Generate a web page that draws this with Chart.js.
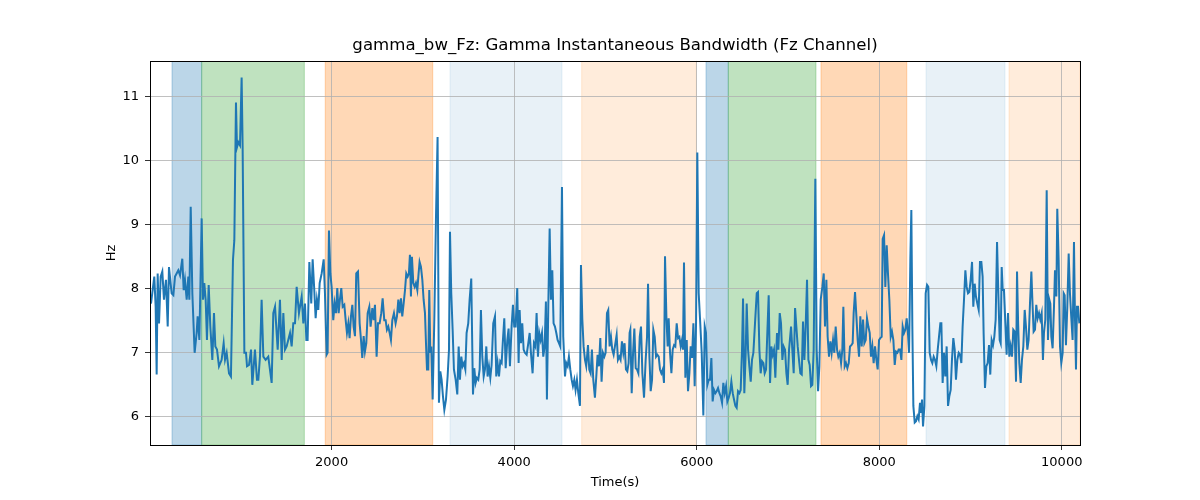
<!DOCTYPE html>
<html>
<head>
<meta charset="utf-8">
<script src="https://cdn.jsdelivr.net/npm/chart.js@4.4.0/dist/chart.umd.min.js"></script>
<style>
  html, body { margin: 0; padding: 0; background: #fff; }
</style>
</head>
<body>
<canvas id="bwChart" width="1200" height="500"></canvas>
<script>
// time (s) and gamma bandwidth (Hz)
const times = [
  21, 57, 72, 83, 94, 109, 127, 145, 163, 185, 204, 218, 247, 266, 284, 302, 320, 339, 364, 379,
  393, 412, 430, 441, 456, 474, 499, 521, 532, 551, 576, 591, 605, 620, 634, 653, 671, 693, 711, 726,
  744, 766, 795, 817, 832, 850, 876, 897, 919, 934, 952, 963, 978, 996, 1014, 1025, 1044, 1062, 1073, 1095,
  1117, 1131, 1160, 1182, 1197, 1215, 1233, 1252, 1277, 1306, 1343, 1361, 1380, 1409, 1434, 1453, 1471, 1489, 1507, 1544,
  1562, 1580, 1599, 1617, 1642, 1672, 1690, 1708, 1723, 1737, 1756, 1777, 1792, 1810, 1825, 1839, 1854, 1869, 1891, 1913,
  1927, 1945, 1956, 1971, 1986, 2000, 2018, 2033, 2048, 2062, 2077, 2091, 2106, 2121, 2139, 2154, 2168, 2183, 2197, 2212,
  2227, 2241, 2256, 2270, 2289, 2307, 2322, 2336, 2351, 2365, 2380, 2395, 2413, 2427, 2446, 2460, 2475, 2493, 2508, 2526,
  2544, 2559, 2577, 2592, 2606, 2621, 2636, 2650, 2665, 2683, 2701, 2716, 2731, 2745, 2760, 2774, 2789, 2804, 2818, 2833,
  2847, 2858, 2869, 2880, 2895, 2910, 2924, 2939, 2953, 2964, 2979, 2994, 3008, 3023, 3034, 3045, 3059, 3070, 3081, 3092,
  3107, 3125, 3143, 3161, 3176, 3191, 3205, 3220, 3235, 3253, 3271, 3286, 3297, 3311, 3326, 3340, 3359, 3377, 3392, 3406,
  3421, 3435, 3450, 3465, 3479, 3497, 3512, 3530, 3549, 3563, 3578, 3592, 3607, 3622, 3636, 3651, 3666, 3680, 3695, 3709,
  3724, 3739, 3753, 3771, 3790, 3804, 3819, 3834, 3848, 3863, 3877, 3892, 3907, 3925, 3939, 3954, 3972, 3987, 4001, 4016,
  4034, 4049, 4060, 4075, 4089, 4104, 4118, 4137, 4155, 4170, 4184, 4202, 4217, 4232, 4246, 4261, 4275, 4290, 4305, 4319,
  4334, 4348, 4359, 4374, 4389, 4403, 4418, 4432, 4447, 4462, 4476, 4491, 4505, 4524, 4538, 4557, 4571, 4586, 4600, 4615,
  4630, 4644, 4659, 4673, 4688, 4703, 4721, 4732, 4747, 4761, 4776, 4790, 4809, 4823, 4838, 4852, 4867, 4885, 4900, 4914,
  4929, 4944, 4958, 4973, 4988, 5002, 5017, 5031, 5046, 5061, 5075, 5090, 5104, 5123, 5137, 5152, 5166, 5181, 5196, 5210,
  5225, 5240, 5254, 5265, 5273, 5288, 5303, 5317, 5332, 5346, 5361, 5376, 5390, 5405, 5423, 5441, 5456, 5467, 5482, 5496,
  5511, 5525, 5540, 5555, 5569, 5584, 5598, 5613, 5628, 5642, 5653, 5668, 5682, 5693, 5708, 5723, 5737, 5752, 5766, 5781,
  5796, 5810, 5825, 5839, 5850, 5861, 5876, 5891, 5905, 5920, 5934, 5949, 5964, 5978, 5993, 6007, 6022, 6037, 6055, 6073,
  6088, 6102, 6117, 6132, 6146, 6161, 6175, 6190, 6205, 6219, 6234, 6249, 6263, 6278, 6292, 6307, 6322, 6336, 6351, 6365,
  6380, 6395, 6409, 6424, 6438, 6453, 6468, 6482, 6497, 6508, 6522, 6537, 6548, 6563, 6577, 6592, 6606, 6621, 6639, 6658,
  6672, 6687, 6701, 6716, 6731, 6745, 6760, 6774, 6789, 6804, 6818, 6833, 6847, 6862, 6880, 6895, 6910, 6924, 6939, 6953,
  6968, 6983, 6997, 7012, 7034, 7048, 7063, 7078, 7092, 7107, 7121, 7136, 7151, 7165, 7180, 7194, 7209, 7224, 7238, 7253,
  7267, 7282, 7300, 7315, 7330, 7344, 7359, 7377, 7392, 7406, 7421, 7435, 7450, 7465, 7479, 7494, 7508, 7523, 7538, 7552,
  7567, 7582, 7596, 7607, 7622, 7636, 7651, 7666, 7680, 7695, 7709, 7720, 7735, 7750, 7764, 7779, 7793, 7808, 7823, 7837,
  7852, 7866, 7881, 7896, 7910, 7925, 7939, 7954, 7969, 7983, 7998, 8012, 8027, 8038, 8053, 8067, 8082, 8096, 8111, 8126,
  8140, 8155, 8170, 8184, 8199, 8213, 8228, 8243, 8257, 8272, 8286, 8301, 8316, 8327, 8341, 8352, 8363, 8374, 8389, 8403,
  8418, 8432, 8447, 8458, 8469, 8480, 8495, 8509, 8524, 8538, 8553, 8568, 8582, 8597, 8611, 8626, 8641, 8655, 8670, 8681,
  8695, 8710, 8724, 8739, 8754, 8768, 8783, 8797, 8812, 8827, 8841, 8856, 8871, 8885, 8900, 8914, 8929, 8944, 8958, 8973,
  8987, 9002, 9017, 9031, 9046, 9060, 9075, 9090, 9104, 9119, 9133, 9144, 9159, 9174, 9188, 9203, 9217, 9232, 9247, 9261,
  9276, 9291, 9305, 9320, 9331, 9342, 9353, 9367, 9382, 9396, 9411, 9426, 9440, 9455, 9469, 9484, 9499, 9510, 9521, 9535,
  9550, 9564, 9579, 9594, 9608, 9623, 9637, 9652, 9667, 9678, 9692, 9707, 9721, 9736, 9751, 9765, 9780, 9794, 9805, 9820,
  9835, 9849, 9864, 9875, 9886, 9900, 9915, 9926, 9941, 9951, 9966, 9981, 9995, 10010, 10021, 10032, 10046, 10061, 10076, 10090,
  10105, 10119, 10134, 10145, 10156, 10167, 10178, 10193
];

const bandwidth = [
  7.77, 8.19, 7.72, 6.66, 8.24, 7.46, 8.19, 8.27, 7.83, 8.14, 7.41, 8.34, 7.93, 7.90, 8.19, 8.24, 8.29, 8.21, 8.47, 7.98,
  8.14, 7.83, 8.19, 7.83, 9.28, 7.93, 7.00, 7.31, 7.57, 7.20, 9.10, 7.83, 8.09, 7.83, 7.20, 8.06, 7.41, 6.89, 7.62, 7.10,
  7.05, 6.79, 6.89, 7.15, 6.89, 7.00, 6.68, 6.63, 8.45, 8.76, 10.91, 10.21, 10.29, 10.24, 11.30, 10.21, 7.00, 7.00, 6.79, 6.81,
  7.05, 6.50, 7.05, 6.58, 6.58, 6.94, 7.83, 6.94, 6.89, 6.94, 6.53, 7.62, 7.72, 7.05, 7.83, 6.89, 7.62, 7.05, 7.10, 7.31,
  7.10, 7.46, 7.46, 8.03, 7.62, 7.88, 7.46, 7.77, 7.20, 7.20, 8.42, 7.77, 8.46, 7.98, 7.54, 7.83, 7.67, 8.09, 8.24, 8.46,
  7.93, 6.97, 7.00, 8.91, 8.24, 8.03, 7.51, 7.77, 7.62, 8.01, 7.62, 7.83, 8.01, 7.72, 7.75, 7.51, 7.31, 7.46, 7.23, 7.57,
  7.75, 7.41, 7.26, 8.24, 8.27, 7.46, 7.20, 6.92, 7.26, 7.02, 7.15, 7.62, 7.72, 7.41, 7.70, 7.51, 7.75, 6.94, 7.46, 7.46,
  7.62, 7.85, 7.51, 7.51, 7.36, 7.41, 7.31, 7.20, 7.51, 7.62, 7.46, 7.57, 7.83, 7.62, 7.85, 7.57, 7.77, 7.98, 8.24, 8.19,
  8.24, 8.53, 7.88, 8.50, 8.09, 8.03, 8.09, 7.98, 8.24, 8.42, 8.34, 8.14, 7.83, 7.62, 7.15, 6.74, 6.74, 7.98, 7.00, 7.10,
  6.27, 7.51, 9.07, 10.37, 6.22, 6.71, 6.58, 6.32, 6.11, 6.27, 6.63, 7.05, 8.89, 7.93, 7.36, 6.74, 6.58, 6.35, 7.10, 6.58,
  6.94, 6.79, 6.84, 6.74, 7.31, 7.46, 7.83, 8.16, 6.35, 6.76, 6.53, 6.61, 6.58, 6.74, 7.67, 6.94, 6.63, 6.74, 7.10, 6.63,
  6.79, 6.61, 6.81, 7.46, 7.57, 6.63, 6.84, 6.63, 6.87, 6.84, 7.20, 7.54, 6.76, 7.20, 7.38, 6.79, 7.41, 7.75, 7.41, 7.41,
  8.01, 6.84, 7.67, 7.15, 7.46, 7.05, 7.00, 6.97, 7.15, 7.31, 7.00, 6.68, 7.15, 7.10, 7.62, 6.94, 7.31, 7.20, 7.31, 6.94,
  7.10, 7.80, 6.27, 7.72, 8.94, 7.83, 8.29, 7.46, 7.41, 7.31, 7.20, 7.15, 7.10, 9.59, 7.25, 6.63, 6.84, 6.79, 6.94, 6.74,
  6.58, 6.48, 6.58, 6.42, 6.58, 6.37, 6.17, 8.37, 7.52, 7.10, 6.89, 6.79, 7.12, 6.74, 6.68, 7.05, 6.58, 6.30, 6.63, 6.97,
  6.79, 7.23, 6.55, 7.00, 6.94, 7.00, 7.62, 7.67, 7.10, 7.25, 7.05, 6.97, 7.10, 7.28, 6.89, 6.94, 6.89, 7.18, 7.00, 7.15,
  6.74, 6.71, 6.84, 7.31, 7.36, 6.37, 7.00, 7.38, 6.76, 6.74, 6.68, 7.25, 7.41, 6.68, 6.30, 6.89, 7.25, 8.08, 6.94, 6.40,
  6.58, 7.36, 7.25, 6.94, 6.97, 6.94, 6.74, 6.68, 6.74, 6.53, 8.51, 7.57, 7.10, 7.54, 7.00, 6.68, 7.05, 7.12, 7.10, 7.46,
  7.23, 7.25, 7.10, 7.20, 7.05, 8.41, 6.61, 7.20, 6.40, 6.68, 7.10, 6.92, 7.46, 6.48, 7.46, 10.13, 7.93, 7.52, 7.00, 6.02,
  7.41, 7.31, 6.50, 6.58, 6.58, 6.92, 6.24, 6.42, 6.37, 6.40, 6.45, 6.37, 6.32, 6.22, 6.53, 6.37, 6.48, 6.24, 6.30, 6.37,
  6.55, 6.37, 6.27, 6.17, 6.14, 6.40, 6.37, 6.42, 7.05, 7.85, 6.37, 7.00, 7.77, 7.05, 6.79, 6.55, 6.89, 7.00, 7.46, 7.93,
  7.95, 7.05, 6.68, 6.87, 6.84, 6.68, 6.74, 7.31, 7.90, 6.53, 7.10, 6.97, 7.05, 6.61, 7.31, 7.05, 7.62, 7.46, 6.89, 7.10,
  7.05, 6.68, 6.50, 7.05, 7.41, 7.05, 6.68, 7.70, 7.41, 7.10, 6.89, 6.68, 6.66, 7.49, 6.89, 7.41, 8.14, 6.89, 6.81, 6.48,
  6.50, 7.05, 9.72, 7.05, 6.40, 6.79, 7.83, 8.03, 8.24, 7.41, 8.14, 7.25, 6.94, 7.18, 7.00, 7.20, 7.00, 7.41, 7.05, 6.94,
  7.00, 6.84, 7.05, 7.72, 6.79, 6.84, 6.76, 6.84, 7.10, 7.12, 7.15, 7.62, 7.95, 7.57, 7.20, 6.94, 7.57, 7.10, 7.52, 7.15,
  7.20, 7.54, 7.41, 7.31, 6.94, 7.10, 6.84, 7.10, 6.89, 6.74, 7.20, 7.23, 7.25, 8.78, 8.84, 8.03, 8.68, 8.24, 7.83, 7.25,
  7.33, 7.20, 6.81, 7.02, 7.00, 7.05, 7.05, 6.89, 7.41, 7.31, 7.36, 7.54, 7.28, 7.00, 8.45, 9.23, 7.41, 6.17, 5.91, 5.93,
  6.01, 5.96, 6.22, 6.06, 6.27, 5.85, 6.17, 7.93, 8.06, 8.03, 7.00, 6.89, 6.84, 6.94, 6.89, 6.79, 7.05, 7.25, 7.46, 7.46,
  6.53, 7.00, 6.63, 7.10, 6.17, 6.32, 6.42, 6.89, 7.23, 7.05, 6.58, 6.89, 7.00, 6.97, 6.84, 7.41, 7.83, 8.29, 8.03, 7.93,
  7.95, 8.14, 8.42, 7.72, 8.08, 7.88, 7.77, 7.67, 8.42, 8.42, 8.19, 7.31, 6.45, 6.79, 6.84, 7.12, 6.66, 7.20, 7.12, 7.25,
  7.52, 8.73, 7.93, 7.20, 7.15, 8.34, 7.98, 7.98, 7.46, 6.97, 7.62, 6.94, 7.10, 6.94, 7.36, 7.33, 6.55, 8.27, 7.52, 6.84,
  6.53, 6.89, 7.10, 7.67, 7.41, 7.05, 7.20, 7.77, 8.27, 7.83, 7.33, 7.36, 7.75, 7.54, 7.62, 7.52, 7.62, 6.89, 7.31, 7.52,
  9.54, 7.20, 7.83, 7.77, 7.25, 7.07, 7.72, 8.29, 7.88, 9.25, 8.45, 7.10, 6.84, 7.00, 7.93, 7.90, 7.12, 7.72, 8.55, 7.93,
  7.54, 7.20, 8.73, 7.54, 6.74, 7.72, 7.72, 7.46
];

// shaded sections along the time axis
const spanStarts = [251, 576, 1930, 3297, 4740, 6102, 6346, 7362, 8513, 9422];
const spanEnds   = [576, 1701, 3108, 4524, 5996, 6346, 7307, 8302, 9378, 10200];
const spanBands  = ['blue', 'green', 'orange', 'lightblue', 'lightorange',
                    'blue', 'green', 'orange', 'lightblue', 'lightorange'];

const xTicks = [2000, 4000, 6000, 8000, 10000];
const yTicks = [6, 7, 8, 9, 10, 11];

const bandColors = {
  blue: 'rgba(31,119,180,0.3)',
  green: 'rgba(44,160,44,0.3)',
  orange: 'rgba(255,127,14,0.3)',
  lightblue: 'rgba(31,119,180,0.1)',
  lightorange: 'rgba(255,127,14,0.15)'
};

const spanPlugin = {
  id: 'spans',
  beforeDraw(chart) {
    const { ctx, chartArea: a, scales: { x } } = chart;
    ctx.save();
    ctx.beginPath();
    ctx.rect(a.left, a.top, a.right - a.left, a.bottom - a.top);
    ctx.clip();
    spanStarts.forEach((s, i) => {
      const x0 = x.getPixelForValue(s);
      const x1 = x.getPixelForValue(spanEnds[i]);
      ctx.fillStyle = bandColors[spanBands[i]];
      ctx.strokeStyle = bandColors[spanBands[i]];
      ctx.lineWidth = 1;
      ctx.fillRect(x0, a.top, x1 - x0, a.bottom - a.top);
      ctx.strokeRect(x0, a.top, x1 - x0, a.bottom - a.top);
    });
    ctx.restore();
  },
  afterDatasetsDraw(chart) {
    const { ctx, chartArea: a } = chart;
    ctx.save();
    ctx.strokeStyle = '#000';
    ctx.lineWidth = 1;
    ctx.strokeRect(Math.round(a.left) + 0.5, Math.round(a.top) + 0.5,
                   Math.round(a.right - a.left), Math.round(a.bottom - a.top));
    ctx.restore();
  }
};

const font = { family: 'DejaVu Sans', size: 13 };

new Chart(document.getElementById('bwChart'), {
  type: 'line',
  data: {
    datasets: [{
      data: times.map((t, i) => ({ x: t, y: bandwidth[i] })),
      borderColor: '#1f77b4',
      borderWidth: 2,
      pointRadius: 0,
      tension: 0,
      fill: false
    }]
  },
  options: {
    responsive: false,
    animation: false,
    devicePixelRatio: 1,
    layout: { padding: { left: 104, right: 120, top: 0, bottom: 10 } },
    plugins: {
      legend: { display: false },
      tooltip: { enabled: false },
      title: {
        display: true,
        fullSize: false,
        text: 'gamma_bw_Fz: Gamma Instantaneous Bandwidth (Fz Channel)',
        color: '#000',
        font: { family: 'DejaVu Sans', size: 16.6, weight: 'normal' },
        padding: { top: 36, bottom: 5 }
      }
    },
    scales: {
      x: {
        type: 'linear',
        min: 10,
        max: 10200,
        afterBuildTicks: s => { s.ticks = xTicks.map(v => ({ value: v })); },
        afterFit: s => { s.height = 45; },
        ticks: { color: '#000', font, maxRotation: 0, autoSkip: false, padding: 5,
                 callback: v => String(v) },
        grid: { color: '#b0b0b0', lineWidth: 0.8, tickLength: 5, tickColor: '#000' },
        border: { display: false },
        title: { display: true, text: 'Time(s)', color: '#000', font, padding: { top: 0, bottom: 0 } }
      },
      y: {
        min: 5.56,
        max: 11.56,
        afterBuildTicks: s => { s.ticks = yTicks.map(v => ({ value: v })); },
        afterFit: s => { s.width = 46; },
        ticks: { color: '#000', font, padding: 6, callback: v => String(v) },
        grid: { color: '#b0b0b0', lineWidth: 0.8, tickLength: 5, tickColor: '#000' },
        border: { display: false },
        title: { display: true, text: 'Hz', color: '#000', font, padding: { top: 0, bottom: 0 } }
      }
    }
  },
  plugins: [spanPlugin]
});
</script>
</body>
</html>
